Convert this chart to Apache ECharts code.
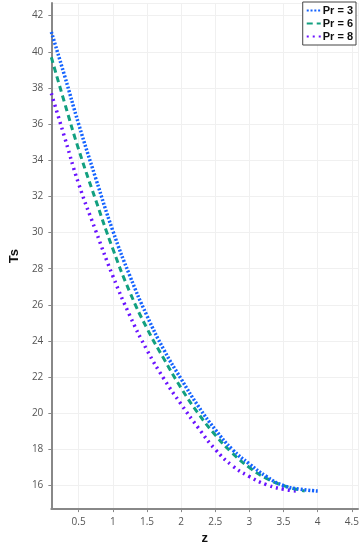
<!DOCTYPE html>
<html>
<head>
<meta charset="utf-8">
<script src="https://cdn.jsdelivr.net/npm/echarts@6/dist/echarts.min.js"></script>
<style>
html,body{margin:0;padding:0;background:#fff;}
#chart{width:364px;height:550px;}
</style>
</head>
<body>
<div id="chart"></div>
<script>
var seriesNames = ['Pr = 3', 'Pr = 6', 'Pr = 8'];
var zPr3 = [0.1, 0.3, 0.5, 0.75, 1.0, 1.25, 1.5, 1.75, 2.0, 2.25, 2.5, 2.75, 3.0, 3.25, 3.5, 3.75, 4.0];
var tsPr3 = [41.1, 38.6, 36.0, 33.0, 30.1, 27.6, 25.4, 23.5, 21.9, 20.4, 19.1, 18.0, 17.2, 16.5, 16.0, 15.8, 15.7];
var zPr6 = [0.1, 0.3, 0.5, 0.75, 1.0, 1.25, 1.5, 1.75, 2.0, 2.25, 2.5, 2.75, 3.0, 3.25, 3.5, 3.81];
var tsPr6 = [39.7, 37.1, 34.6, 31.8, 29.1, 26.7, 24.7, 23.0, 21.4, 20.0, 18.8, 17.8, 17.0, 16.4, 16.0, 15.7];
var zPr8 = [0.1, 0.3, 0.5, 0.75, 1.0, 1.25, 1.5, 1.75, 2.0, 2.25, 2.5, 2.75, 3.0, 3.25, 3.5, 3.7];
var tsPr8 = [37.7, 35.2, 32.7, 30.1, 27.6, 25.4, 23.5, 21.9, 20.5, 19.2, 18.0, 17.1, 16.5, 16.05, 15.8, 15.7];

function pairs(xs, ys) { return xs.map(function (x, i) { return [x, ys[i]]; }); }

var chart = echarts.init(document.getElementById('chart'));
var axisLabelStyle = { color: '#555', fontSize: 10, fontFamily: 'Open Sans', showMinLabel: false, showMaxLabel: false };
chart.setOption({
  animation: false,
  backgroundColor: '#fff',
  grid: { left: 32, right: 6, top: 3, bottom: 31, containLabel: false },
  legend: {
    orient: 'vertical',
    right: 8, top: 2,
    backgroundColor: '#fff',
    borderColor: '#444', borderWidth: 1,
    padding: [3, 3, 3, 3],
    itemGap: 2,
    itemWidth: 14, itemHeight: 10,
    itemStyle: { opacity: 0 },
    textStyle: { fontFamily: 'Liberation Sans', fontWeight: 'bold', fontSize: 11, color: '#111', padding: [0, 0, 0, -3] },
    data: seriesNames
  },
  xAxis: {
    type: 'value', min: 0.1, max: 4.59, splitNumber: 9,
    name: 'z', nameLocation: 'middle', nameGap: 15,
    nameTextStyle: { fontFamily: 'Liberation Sans', fontWeight: 'bold', fontSize: 13, color: '#111' },
    axisLine: { show: true, lineStyle: { color: '#888', width: 2 } },
    axisTick: { show: true, length: 3, lineStyle: { color: '#888' } },
    axisLabel: axisLabelStyle,
    splitLine: { show: true, lineStyle: { color: '#f0f0f0' } }
  },
  yAxis: {
    type: 'value', min: 14.7, max: 42.7, splitNumber: 14,
    name: 'Ts', nameLocation: 'middle', nameGap: 17, nameRotate: 90,
    nameTextStyle: { fontFamily: 'Liberation Sans', fontWeight: 'bold', fontSize: 13, color: '#111' },
    axisLine: { show: true, lineStyle: { color: '#888', width: 2 } },
    axisTick: { show: true, length: 3, lineStyle: { color: '#888' } },
    axisLabel: axisLabelStyle,
    splitLine: { show: true, lineStyle: { color: '#f0f0f0' } }
  },
  series: [
    { name: seriesNames[0], type: 'line', smooth: true, symbol: 'none', data: pairs(zPr3, tsPr3),
      itemStyle: { color: '#1463ff' }, lineStyle: { color: '#1463ff', width: 3.5, type: [2, 1.8] }, z: 3 },
    { name: seriesNames[1], type: 'line', smooth: true, symbol: 'none', data: pairs(zPr6, tsPr6),
      itemStyle: { color: '#12a080' }, lineStyle: { color: '#12a080', width: 3, type: [6, 4] }, z: 2 },
    { name: seriesNames[2], type: 'line', smooth: true, symbol: 'none', data: pairs(zPr8, tsPr8),
      itemStyle: { color: '#6a12ff' }, lineStyle: { color: '#6a12ff', width: 3.5, type: [2, 4] }, z: 1 }
  ]
});
</script>
</body>
</html>
